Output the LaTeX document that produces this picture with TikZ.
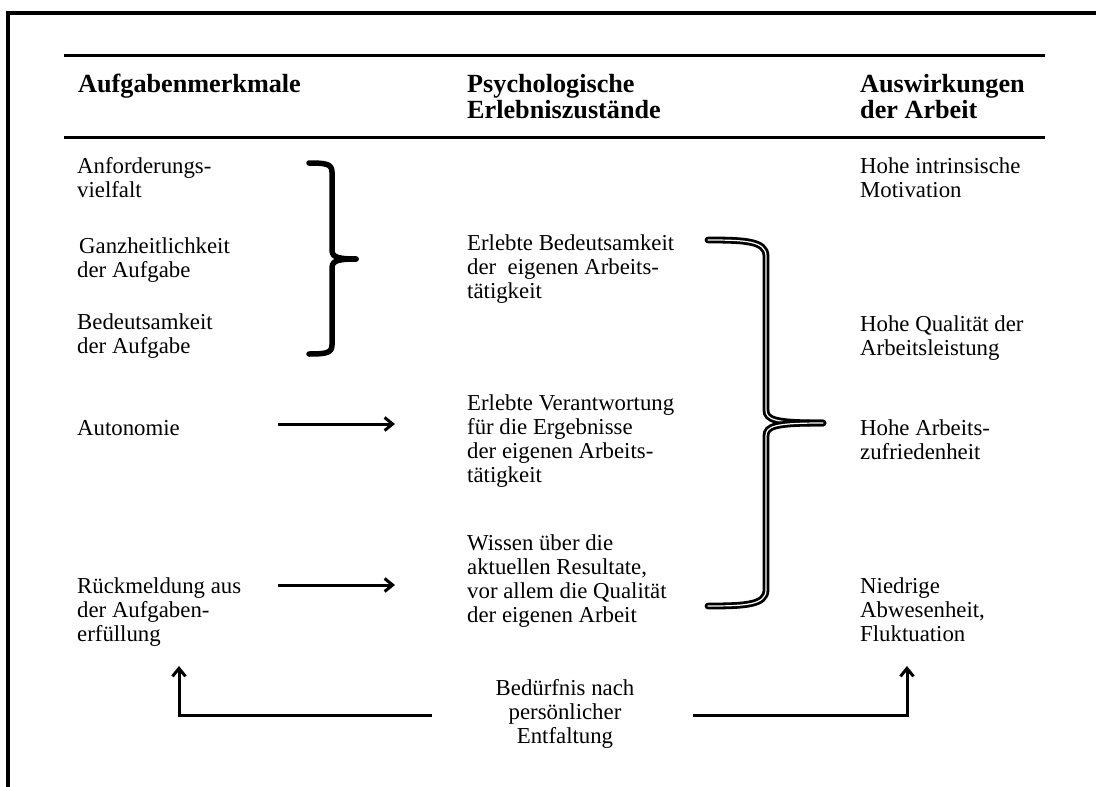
\documentclass[tikz,border=0pt]{standalone}
\usepackage{fontspec}
\setmainfont{Liberation Serif}
\usetikzlibrary{arrows.meta}
\newcommand{\bodyfont}{\fontsize{22.8}{24}\selectfont}
\newcommand{\headfont}{\fontsize{26.2}{26}\selectfont\bfseries}
\newcommand{\lines}[1]{\begin{tabular}[t]{@{}l@{}}#1\end{tabular}}
\newcommand{\clines}[1]{\begin{tabular}[t]{@{}c@{}}#1\end{tabular}}
\begin{document}
\begin{tikzpicture}[x=1pt,y=-1pt,
  txt/.style={anchor=base west,inner sep=0pt,font=\bodyfont},
  head/.style={anchor=base west,inner sep=0pt,font=\headfont},
  rule/.style={line width=3pt},
  arr/.style={line width=3pt,-{Straight Barb[length=8pt,width=13pt,line width=3pt]}},
  brace/.style={line width=5.5pt,line cap=round},
  dbrace/.style={line width=2.8pt,double=white,double distance=1.2pt,line cap=round}]
\useasboundingbox (0,0) rectangle (1096,787);
% frame
\draw[line width=4.5pt] (1100,13) -- (8,13) -- (8,792);
% header rules
\draw[rule] (64,55) -- (1045,55);
\draw[rule] (64,137) -- (1045,137);
% headers
\node[head] (h1) at (78,92) {Aufgabenmerkmale};
\node[head] (h2) at (467,92) {\lines{Psychologische\\Erlebniszustände}};
\node[head] (h3) at (860,92) {\lines{Auswirkungen\\der Arbeit}};
% column 1
\node[txt] (a1) at (77,173) {\lines{Anforderungs-\\vielfalt}};
\node[txt] (a2) at (77,253) {\lines{\hspace{2pt}Ganzheitlichkeit\\der Aufgabe}};
\node[txt] (a3) at (77,329) {\lines{Bedeutsamkeit\\der Aufgabe}};
\node[txt] (a4) at (77,435) {Autonomie};
\node[txt] (a5) at (77,593) {\lines{Rückmeldung aus\\der Aufgaben-\\erfüllung}};
% column 2
\node[txt] (b1) at (467,250) {\lines{Erlebte Bedeutsamkeit\\der\ \ eigenen Arbeits-\\tätigkeit}};
\node[txt] (b2) at (467,410) {\lines{Erlebte Verantwortung\\für die Ergebnisse\\der eigenen Arbeits-\\tätigkeit}};
\node[txt] (b3) at (467,550) {\lines{Wissen über die\\aktuellen Resultate,\\vor allem die Qualität\\der eigenen Arbeit}};
% column 3
\node[txt] (c1) at (860,173) {\lines{Hohe intrinsische\\Motivation}};
\node[txt] (c2) at (860,331) {\lines{Hohe Qualität der\\Arbeitsleistung}};
\node[txt] (c3) at (860,435) {\lines{Hohe Arbeits-\\zufriedenheit}};
\node[txt] (c4) at (860,593) {\lines{Niedrige\\Abwesenheit,\\Fluktuation}};
% bottom
\node[txt,anchor=base] (n) at (565,695) {\clines{Bedürfnis nach\\persönlicher\\Entfaltung}};
% brace 1
\coordinate (p1t) at (309,163);
\coordinate (p1m) at (356,259);
\coordinate (p1b) at (309,354);
\draw[brace] (p1t) .. controls (326,163) and (332,164) .. (332,172) -- (332,249)
  .. controls (332,256) and (334,259) .. (p1m);
\draw[brace] (p1b) .. controls (326,354) and (332,353) .. (332,345) -- (332,269)
  .. controls (332,262) and (334,259) .. (p1m);
% brace 2
\coordinate (p2t) at (708,240);
\coordinate (p2m) at (823,423);
\coordinate (p2b) at (708,606);
\draw[dbrace] (p2t) .. controls (745,240) and (766,241) .. (766,256) -- (766,410)
  .. controls (766,420) and (775,423) .. (p2m);
\draw[dbrace] (p2b) .. controls (745,606) and (766,605) .. (766,590) -- (766,436)
  .. controls (766,426) and (775,423) .. (p2m);
% arrows
\coordinate (s1) at (278,424); \coordinate (e1) at (395,424);
\coordinate (s2) at (278,585); \coordinate (e2) at (395,585);
\draw[arr] (s1) -- (e1);
\draw[arr] (s2) -- (e2);
\coordinate (l0) at (432,715); \coordinate (l1) at (179,666);
\coordinate (r0) at (693,715); \coordinate (r1) at (907,666);
\draw[arr] (l0) -| (l1);
\draw[arr] (r0) -| (r1);
\end{tikzpicture}
\end{document}
